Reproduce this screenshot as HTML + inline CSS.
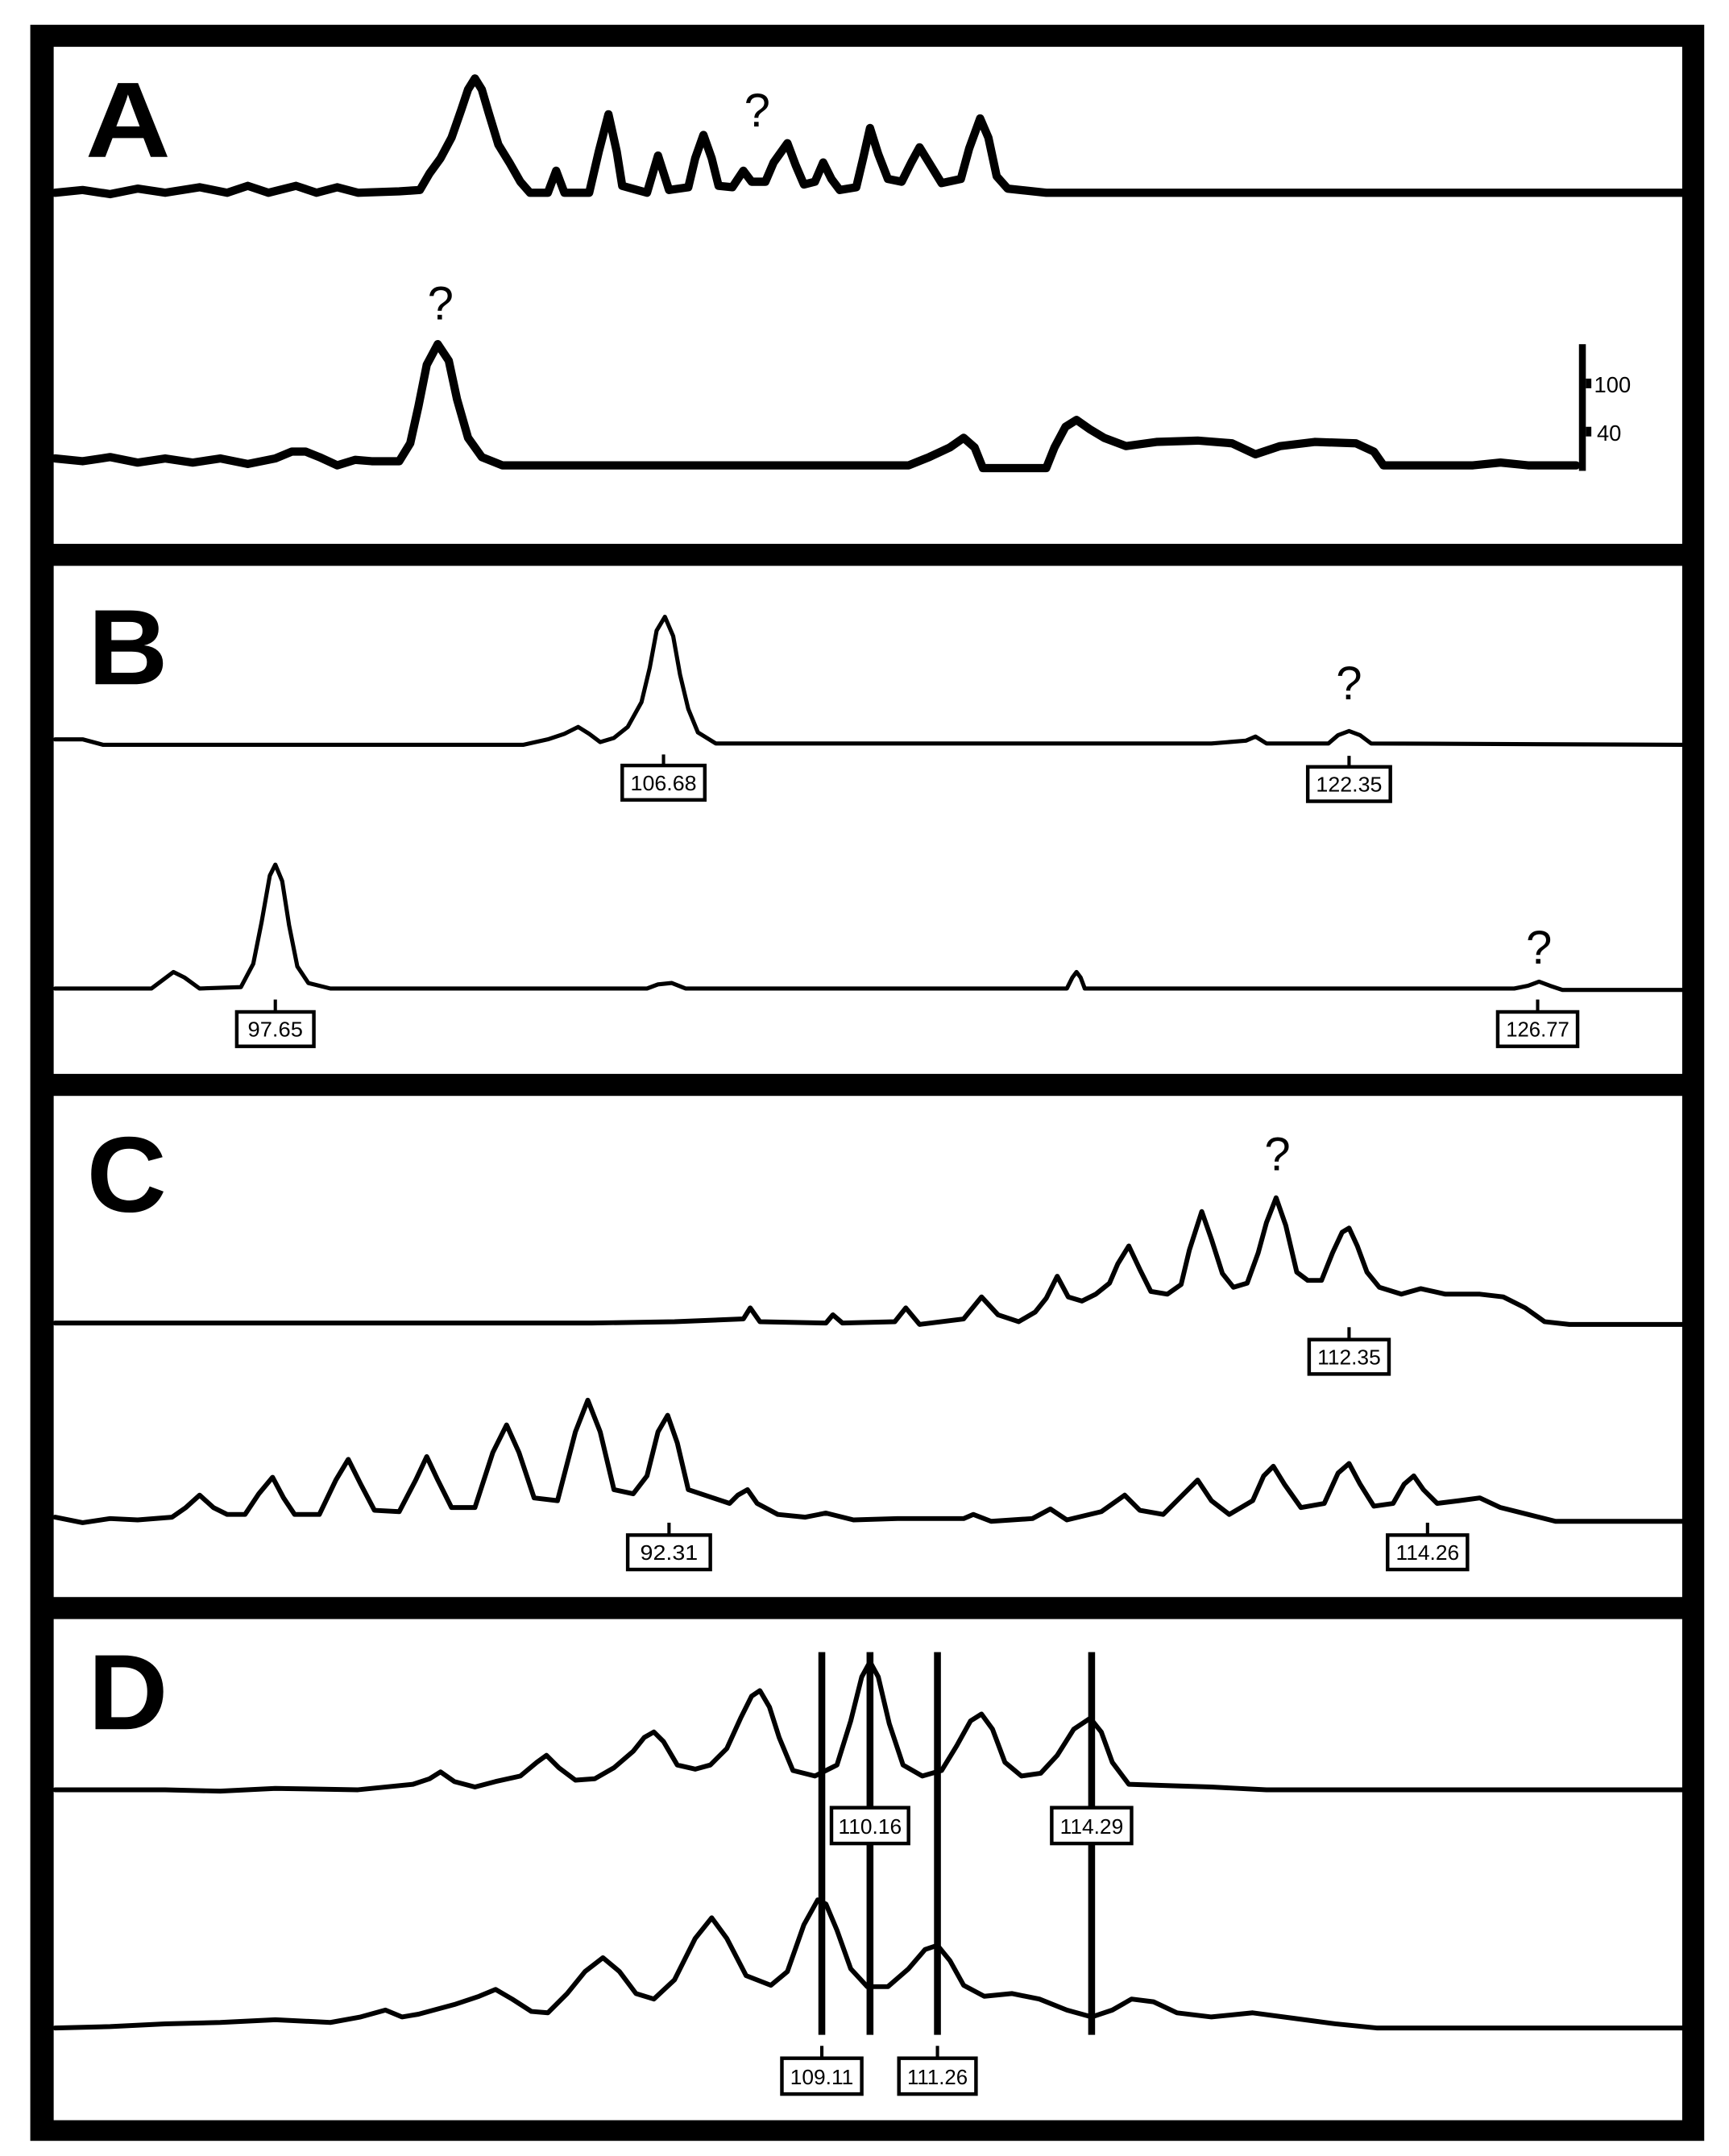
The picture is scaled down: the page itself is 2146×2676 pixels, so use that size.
<!DOCTYPE html>
<html><head><meta charset="utf-8"><style>
html,body{margin:0;padding:0;background:#fff;}
svg{display:block;}
text{font-family:"Liberation Sans",sans-serif;}
</style></head><body>
<svg width="2146" height="2676" viewBox="0 0 1256 1566" preserveAspectRatio="none" xmlns="http://www.w3.org/2000/svg">
<rect x="0" y="0" width="1256" height="1566" fill="#fff"/>
<!-- frame -->
<rect x="22" y="18" width="1216" height="1537" fill="#000"/>
<rect x="39" y="34" width="1183" height="361" fill="#fff"/>
<rect x="39" y="411" width="1183" height="369" fill="#fff"/>
<rect x="39" y="796" width="1183" height="364" fill="#fff"/>
<rect x="39" y="1176" width="1183" height="364" fill="#fff"/>

<g fill="none" stroke="#000" stroke-linejoin="round" stroke-linecap="round">
<!-- A -->
<polyline stroke-width="6" points="40,140 60,138 80,141 100,137 120,140 145,136 165,140 180,135 195,140 215,135 230,140 245,136 260,140 290,139 305,138 312,126 320,115 328,100 335,80 340,65 345,57 350,65 355,82 362,105 370,118 378,132 385,140 398,140 404,124 410,140 428,140 435,110 442,83 448,110 452,135 470,140 478,113 486,138 500,136 505,115 511,98 517,115 522,135 532,136 540,124 546,132 556,132 562,118 572,104 578,120 584,134 592,132 598,118 604,130 610,138 622,136 627,115 632,93 638,112 645,130 655,132 662,118 668,107 676,120 684,133 698,130 704,108 712,86 718,100 724,128 732,137 760,140 1222,140"/>
<polyline stroke-width="6" points="40,333 60,335 80,332 100,336 120,333 140,336 160,333 180,337 200,333 212,328 222,328 232,332 245,338 258,334 270,335 290,335 298,322 304,295 310,265 318,250 326,262 332,290 340,318 350,332 365,338 420,338 500,338 600,338 660,338 675,332 690,325 700,318 708,325 714,340 760,340 766,325 774,310 782,305 792,312 802,318 818,324 840,321 870,320 895,322 912,330 930,324 955,321 985,322 998,328 1005,338 1070,338 1090,336 1110,338 1145,338"/>
<!-- B -->
<polyline stroke-width="3" points="40,537 60,537 75,541 100,541 200,541 300,541 380,541 398,537 410,533 420,528 428,533 436,539 446,536 456,528 466,510 472,485 477,458 483,448 489,462 494,490 500,515 507,532 520,540 600,540 880,540 905,538 912,535 920,540 965,540 972,534 980,531 988,534 996,540 1222,541"/>
<polyline stroke-width="3" points="40,718 110,718 118,712 126,706 134,710 145,718 175,717 184,700 190,670 196,636 200,628 205,640 210,672 216,702 224,714 240,718 470,718 478,715 488,714 498,718 775,718 779,710 782,706 785,710 788,718 1100,718 1110,716 1118,713 1126,716 1135,719 1222,719"/>
<!-- C -->
<polyline stroke-width="3.5" points="40,961 430,961 490,960 540,958 545,950 552,960 600,961 605,955 612,961 650,960 658,950 668,962 700,958 713,942 725,955 740,960 752,953 760,943 768,927 776,942 786,945 796,940 806,932 812,918 820,905 828,922 836,938 848,940 858,933 864,908 873,880 880,900 888,925 896,935 906,932 914,910 920,888 927,870 934,890 942,924 950,930 960,930 968,910 975,895 980,892 986,905 993,924 1002,935 1018,940 1032,936 1050,940 1075,940 1092,942 1108,950 1122,960 1140,962 1222,962"/>
<polyline stroke-width="3.5" points="40,1102 60,1106 80,1103 100,1104 125,1102 135,1095 145,1086 155,1095 165,1100 178,1100 188,1085 198,1073 206,1088 214,1100 232,1100 244,1075 253,1060 262,1078 272,1097 290,1098 302,1075 310,1058 318,1075 328,1095 345,1095 358,1055 368,1035 377,1055 388,1088 405,1090 418,1040 427,1017 436,1040 446,1082 460,1085 470,1072 478,1040 485,1028 492,1048 500,1082 518,1088 530,1092 536,1086 543,1082 550,1092 565,1100 585,1102 600,1099 620,1104 652,1103 700,1103 707,1100 720,1105 750,1103 763,1096 775,1104 800,1098 817,1086 828,1097 845,1100 860,1085 870,1075 880,1090 893,1100 910,1090 918,1072 925,1065 933,1078 945,1095 962,1092 972,1070 980,1063 988,1078 998,1094 1012,1092 1020,1078 1027,1072 1034,1082 1044,1092 1060,1090 1075,1088 1090,1095 1110,1100 1130,1105 1222,1105"/>
<!-- D -->
<polyline stroke-width="3.5" points="40,1300 80,1300 120,1300 160,1301 200,1299 260,1300 300,1296 312,1292 320,1287 330,1294 345,1298 360,1294 378,1290 390,1280 397,1275 406,1284 418,1293 432,1292 446,1284 460,1272 468,1262 475,1258 482,1265 492,1282 505,1285 516,1282 528,1270 538,1248 546,1232 552,1228 559,1240 566,1262 576,1286 592,1290 608,1282 618,1250 626,1218 632,1207 638,1218 646,1252 656,1282 670,1290 684,1286 695,1268 705,1250 713,1245 721,1256 730,1280 742,1290 756,1288 768,1275 780,1256 792,1248 800,1258 808,1280 820,1296 850,1297 880,1298 920,1300 960,1300 1040,1300 1222,1300"/>
<polyline stroke-width="3.5" points="40,1473 80,1472 120,1470 160,1469 200,1467 240,1469 262,1465 280,1460 292,1465 304,1463 330,1456 348,1450 360,1445 372,1452 386,1461 398,1462 412,1448 425,1432 438,1422 450,1432 462,1448 475,1452 490,1438 505,1408 517,1393 528,1408 542,1435 560,1442 572,1432 584,1398 594,1380 600,1383 608,1402 618,1430 630,1443 645,1443 660,1430 672,1416 681,1413 690,1424 700,1442 715,1450 735,1448 755,1452 775,1460 793,1465 808,1460 822,1452 838,1454 855,1462 880,1465 910,1462 940,1466 970,1470 1000,1473 1100,1473 1222,1473"/>
</g>

<!-- D vertical lines -->
<g fill="#000">
<rect x="594.5" y="1200" width="5" height="278"/>
<rect x="629.5" y="1200" width="5" height="278"/>
<rect x="678.5" y="1200" width="5" height="278"/>
<rect x="790.5" y="1200" width="5" height="278"/>
</g>

<!-- scale bar -->
<rect x="1147" y="250" width="5" height="92" fill="#000"/>
<rect x="1152" y="275" width="4" height="7" fill="#000"/>
<rect x="1152" y="310" width="4" height="7" fill="#000"/>
<text x="1158" y="285" font-size="16">100</text>
<text x="1160" y="320" font-size="16">40</text>

<!-- panel letters -->
<g font-weight="bold" font-size="78">
<text x="62" y="114" textLength="62" lengthAdjust="spacingAndGlyphs">A</text>
<text x="64" y="497" textLength="58" lengthAdjust="spacingAndGlyphs">B</text>
<text x="63" y="880" textLength="58" lengthAdjust="spacingAndGlyphs">C</text>
<text x="64" y="1256" textLength="58" lengthAdjust="spacingAndGlyphs">D</text>
</g>

<!-- question marks -->
<g font-size="34" text-anchor="middle">
<text x="550" y="92">?</text>
<text x="320" y="232">?</text>
<text x="980" y="508">?</text>
<text x="1118" y="700">?</text>
<text x="928" y="850">?</text>
</g>

<!-- labels -->
<g font-size="15" text-anchor="middle">
<g transform="translate(482,551)"><rect x="-30" y="5" width="60" height="25" fill="#fff" stroke="#000" stroke-width="2.6"/><rect x="-1.2" y="-3" width="2.4" height="8"/><text x="0" y="23" textLength="48" lengthAdjust="spacingAndGlyphs">106.68</text></g>
<g transform="translate(980,552)"><rect x="-30" y="5" width="60" height="25" fill="#fff" stroke="#000" stroke-width="2.6"/><rect x="-1.2" y="-3" width="2.4" height="8"/><text x="0" y="23" textLength="48" lengthAdjust="spacingAndGlyphs">122.35</text></g>
<g transform="translate(200,730)"><rect x="-28" y="5" width="56" height="25" fill="#fff" stroke="#000" stroke-width="2.6"/><rect x="-1.2" y="-4" width="2.4" height="9"/><text x="0" y="23" textLength="40" lengthAdjust="spacingAndGlyphs">97.65</text></g>
<g transform="translate(1117,730)"><rect x="-29" y="5" width="58" height="25" fill="#fff" stroke="#000" stroke-width="2.6"/><rect x="-1.2" y="-4" width="2.4" height="9"/><text x="0" y="23" textLength="46" lengthAdjust="spacingAndGlyphs">126.77</text></g>
<g transform="translate(980,968)"><rect x="-29" y="5" width="58" height="25" fill="#fff" stroke="#000" stroke-width="2.6"/><rect x="-1.2" y="-4" width="2.4" height="9"/><text x="0" y="23" textLength="46" lengthAdjust="spacingAndGlyphs">112.35</text></g>
<g transform="translate(486,1110)"><rect x="-30" y="5" width="60" height="25" fill="#fff" stroke="#000" stroke-width="2.6"/><rect x="-1.2" y="-4" width="2.4" height="9"/><text x="0" y="23" textLength="42" lengthAdjust="spacingAndGlyphs">92.31</text></g>
<g transform="translate(1037,1110)"><rect x="-29" y="5" width="58" height="25" fill="#fff" stroke="#000" stroke-width="2.6"/><rect x="-1.2" y="-4" width="2.4" height="9"/><text x="0" y="23" textLength="46" lengthAdjust="spacingAndGlyphs">114.26</text></g>
<g transform="translate(632,1308)"><rect x="-28" y="5" width="56" height="26" fill="#fff" stroke="#000" stroke-width="2.6"/><text x="0" y="24" textLength="46" lengthAdjust="spacingAndGlyphs">110.16</text></g>
<g transform="translate(793,1308)"><rect x="-29" y="5" width="58" height="26" fill="#fff" stroke="#000" stroke-width="2.6"/><text x="0" y="24" textLength="46" lengthAdjust="spacingAndGlyphs">114.29</text></g>
<g transform="translate(597,1490)"><rect x="-29" y="5" width="58" height="26" fill="#fff" stroke="#000" stroke-width="2.6"/><rect x="-1.2" y="-4" width="2.4" height="9"/><text x="0" y="24" textLength="46" lengthAdjust="spacingAndGlyphs">109.11</text></g>
<g transform="translate(681,1490)"><rect x="-28" y="5" width="56" height="26" fill="#fff" stroke="#000" stroke-width="2.6"/><rect x="-1.2" y="-4" width="2.4" height="9"/><text x="0" y="24" textLength="44" lengthAdjust="spacingAndGlyphs">111.26</text></g>
</g>
</svg>
</body></html>
